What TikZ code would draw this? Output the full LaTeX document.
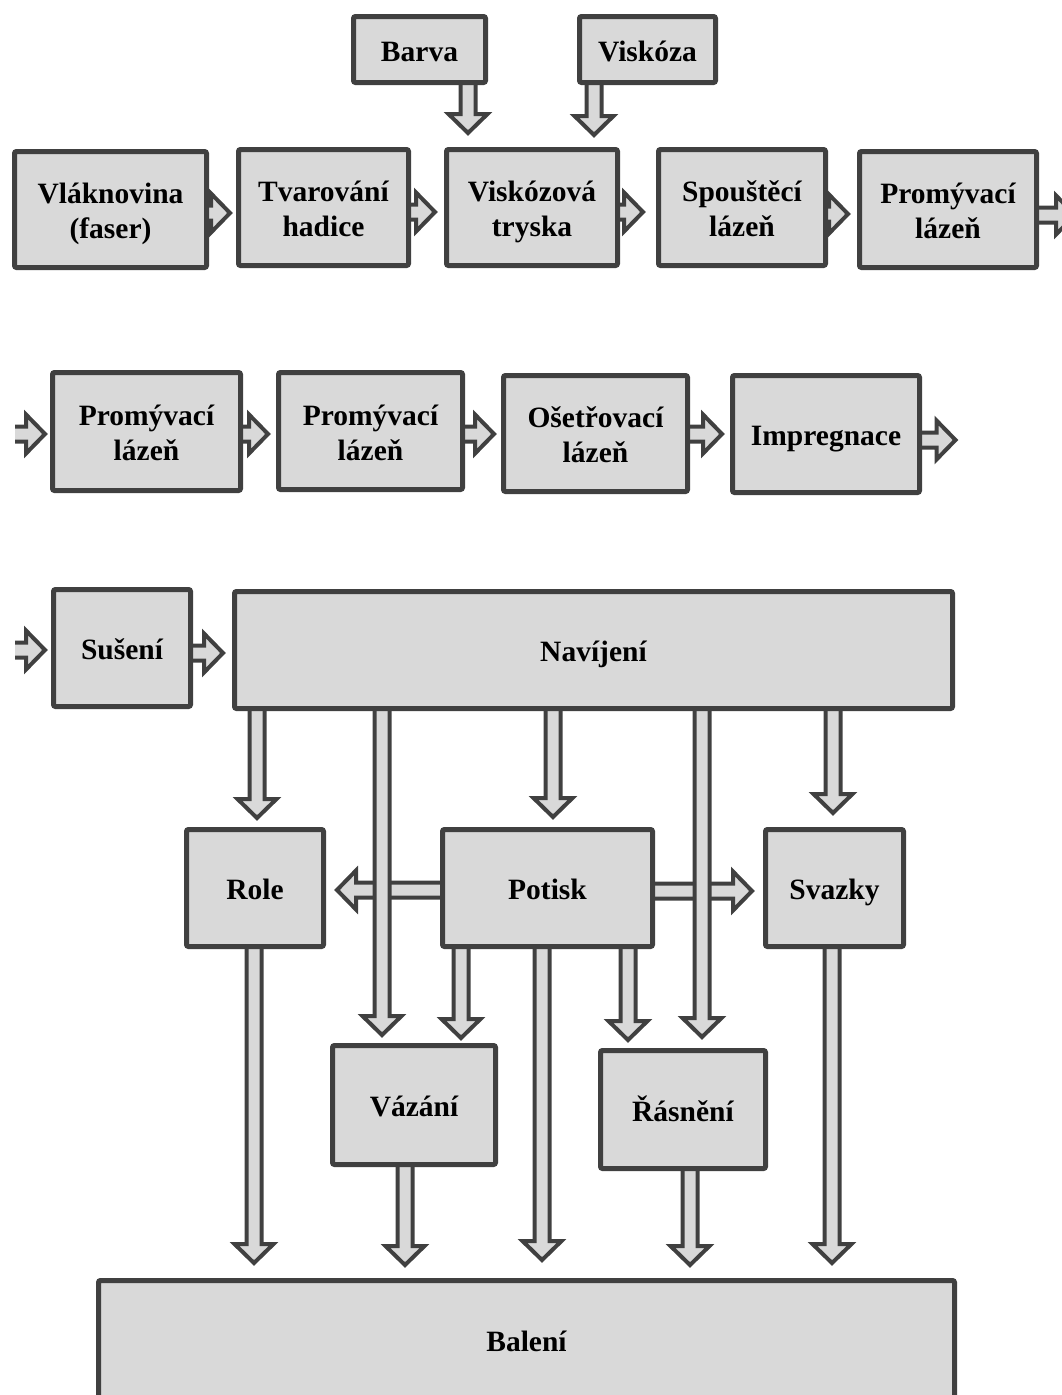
\documentclass[tikz,border=0pt]{standalone}
\usepackage{fontspec}
\setmainfont{Liberation Serif}
\usetikzlibrary{calc,backgrounds}
\definecolor{dk}{HTML}{404040}
\definecolor{bx}{HTML}{D9D9D9}
\newcommand\arS{7.5pt}
\newcommand\arH{19.5pt}
\newcommand\arL{19pt}
% box text: lines on a fixed baseline grid, lowered slightly inside the box
\newcommand\tx[1]{\raisebox{-4.5pt}[\height][\depth]{\begin{tabular}{@{}c@{}}#1\end{tabular}}}
% vertical (downward) block arrow: y of start from #1, x and tip from #2
\newcommand\varr[2]{\draw[blk] let \p1=(#1),\p2=(#2) in (\x2-\arS,\y1) -- (\x2-\arS,\y2+\arL) -- (\x2-\arH,\y2+\arL) -- (\x2,\y2) -- (\x2+\arH,\y2+\arL) -- (\x2+\arS,\y2+\arL) -- (\x2+\arS,\y1);}
% horizontal block arrow: x of start from #1, y and tip from #2, #3 = - (right) or + (left)
\newcommand\harr[3]{\draw[blk] let \p1=(#1),\p2=(#2) in (\x1,\y2-\arS) -- (\x2#3\arL,\y2-\arS) -- (\x2#3\arL,\y2-\arH) -- (\x2,\y2) -- (\x2#3\arL,\y2+\arH) -- (\x2#3\arL,\y2+\arS) -- (\x1,\y2+\arS);}
\begin{document}
\begin{tikzpicture}[x=1pt,y=-1pt,
  box/.style={draw=dk,line width=5pt,fill=bx,rounded corners=2pt,inner sep=0pt,
    font=\fontsize{29.5}{35}\selectfont\bfseries},
  blk/.style={draw=dk,fill=bx,line width=4pt}]
\useasboundingbox (0,0) rectangle (1062,1395);
\clip (0,0) rectangle (1062,1395);
% row 1
\node[box,minimum width=132pt,minimum height=66pt] (barva) at (419.5,49.5) {\tx{Barva}};
\node[box,minimum width=136pt,minimum height=66pt] (visk) at (647.5,49.5) {\tx{Viskóza}};
\node[box,minimum width=192pt,minimum height=116pt] (vlak) at (110.5,209.5) {\tx{Vláknovina\\(faser)}};
\node[box,minimum width=170pt,minimum height=116pt] (tvar) at (323.5,207.5) {\tx{Tvarování\\hadice}};
\node[box,minimum width=171pt,minimum height=116pt] (tryska) at (532,207.5) {\tx{Viskózová\\tryska}};
\node[box,minimum width=167pt,minimum height=116pt] (spou) at (742,207.5) {\tx{Spouštěcí\\lázeň}};
\node[box,minimum width=177pt,minimum height=116pt] (prom1) at (948,209.5) {\tx{Promývací\\lázeň}};
% row 2
\node[box,minimum width=188pt,minimum height=118pt] (prom2) at (146.5,431.5) {\tx{Promývací\\lázeň}};
\node[box,minimum width=184pt,minimum height=117pt] (prom3) at (370.5,431) {\tx{Promývací\\lázeň}};
\node[box,minimum width=184pt,minimum height=116pt] (oset) at (595.5,433.5) {\tx{Ošetřovací\\lázeň}};
\node[box,minimum width=187pt,minimum height=117pt] (impr) at (826,434) {\tx{Impregnace}};
% row 3
\node[box,minimum width=137pt,minimum height=117pt] (suseni) at (122,648) {\tx{Sušení}};
\node[box,minimum width=718pt,minimum height=117pt] (nav) at (593.5,650) {\tx{Navíjení}};
% row 4
\node[box,minimum width=137pt,minimum height=117pt] (role) at (255,888) {\tx{Role}};
\node[box,minimum width=210pt,minimum height=117pt] (potisk) at (547.5,888) {\tx{Potisk}};
\node[box,minimum width=138pt,minimum height=117pt] (svazky) at (834.5,888) {\tx{Svazky}};
% row 5
\node[box,minimum width=163pt,minimum height=119pt] (vazani) at (414,1105) {\tx{Vázání}};
\node[box,minimum width=165pt,minimum height=118pt] (rasneni) at (683,1109.5) {\tx{Řásnění}};
\node[box,minimum width=856pt,minimum height=119pt] (baleni) at (526.5,1340) {\tx{Balení}};
% free ends
\coordinate (out1) at (1075,215);
\coordinate (in2) at (15,434);
\coordinate (out2) at (955.5,440);
\coordinate (in3) at (15,650);
\begin{pgfonlayer}{background}
\clip (0,0) rectangle (1062,1395);
% row 1
\varr{barva.south}{[xshift=-64pt,yshift=14pt]tryska.north}
\varr{visk.south}{[xshift=62pt,yshift=12pt]tryska.north}
\harr{vlak.east}{[xshift=-6pt,yshift=-5.5pt]tvar.west}{-}
\harr{tvar.east}{[xshift=-9pt,yshift=-4.5pt]tryska.west}{-}
\harr{tryska.east}{[xshift=-13pt,yshift=-4.5pt]spou.west}{-}
\harr{spou.east}{[xshift=-9pt,yshift=-4.5pt]prom1.west}{-}
\harr{prom1.east}{out1}{-}
% row 2
\harr{in2}{[xshift=-5pt,yshift=-2.5pt]prom2.west}{-}
\harr{prom2.east}{[xshift=-8pt,yshift=-3pt]prom3.west}{-}
\harr{prom3.east}{[xshift=-7pt,yshift=-0.5pt]oset.west}{-}
\harr{oset.east}{[xshift=-8pt]impr.west}{-}
\harr{impr.east}{out2}{-}
% row 3
\harr{in3}{[xshift=-6pt,yshift=-2pt]suseni.west}{-}
\harr{suseni.east}{[xshift=-9pt,yshift=-3pt]nav.west}{-}
% Potisk sideways
\harr{potisk.west}{[xshift=11pt,yshift=-2pt]role.east}{+}
\harr{potisk.east}{[xshift=-11pt,yshift=-3pt]svazky.west}{-}
% from Navijeni
\varr{nav.south}{[xshift=2pt,yshift=9pt]role.north}
\varr{nav.south}{[xshift=-32pt,yshift=8pt]vazani.north}
\varr{nav.south}{[xshift=5.5pt,yshift=10pt]potisk.north}
\varr{nav.south}{[xshift=19pt,yshift=11pt]rasneni.north}
\varr{nav.south}{[xshift=-1.5pt,yshift=14pt]svazky.north}
% from Potisk
\varr{potisk.south}{[xshift=47pt,yshift=5pt]vazani.north}
\varr{potisk.south}{[xshift=-55pt,yshift=8pt]rasneni.north}
\varr{potisk.south}{[xshift=15.5pt,yshift=18pt]baleni.north}
% to Baleni
\varr{role.south}{[xshift=-272.5pt,yshift=15pt]baleni.north}
\varr{vazani.south}{[xshift=-121.5pt,yshift=13pt]baleni.north}
\varr{rasneni.south}{[xshift=163.5pt,yshift=13pt]baleni.north}
\varr{svazky.south}{[xshift=305.5pt,yshift=15pt]baleni.north}
\end{pgfonlayer}
\end{tikzpicture}
\end{document}
